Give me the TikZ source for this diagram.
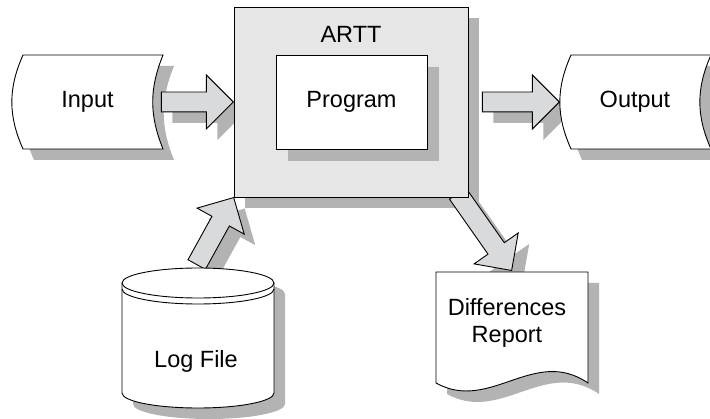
\documentclass[tikz,border=0pt]{standalone}
\usepackage{fontspec}
\setmainfont{Liberation Sans}
\usetikzlibrary{calc,shapes.arrows}

\definecolor{boxgray}{HTML}{E6E6E6}
\definecolor{shadegray}{HTML}{B3B3B3}
\definecolor{arrowgray}{HTML}{D9DADC}

\tikzset{
  every node/.style={font=\fontsize{23.5}{27}\selectfont},
  outline/.style={draw=black,line width=0.9pt,fill=white},
  shadowfill/.style={fill=shadegray,draw=none},
  bigbox/.style={rectangle,minimum width=234pt,minimum height=190pt,inner sep=0pt},
  smallbox/.style={rectangle,minimum width=151pt,minimum height=94pt,inner sep=0pt},
  fatarrow/.style={single arrow,single arrow head extend=17pt,single arrow tip angle=90,
    inner xsep=0pt,inner ysep=9.5pt,anchor=tip,line width=0.9pt}
}

% outlines of the drawn shapes
\newcommand{\inputpath}{(23,363) -- (163,363) to[bend right=22] (163,269) -- (23,269) to[bend left=24] (23,363) -- cycle}
\newcommand{\outputpath}{(571,363) -- (711,363) to[bend right=24] (711,269) -- (571,269) to[bend left=24] (571,363) -- cycle}
\newcommand{\drumpath}{(122,135) -- (122,25) arc[start angle=180,end angle=360,x radius=76,y radius=15] -- (274,135) arc[start angle=0,end angle=180,x radius=76,y radius=15] -- cycle}
\newcommand{\docpath}{(436,146) -- (588,146) -- (588,35) .. controls (534,72) and (490,5) .. (436,35) -- cycle}

% block arrow from #1 to #2, with its shadow
\newcommand{\fatlink}[2]{%
  \path let \p1=($(#2)-(#1)$), \n1={veclen(\x1,\y1)}, \n2={atan2(\y1,\x1)} in
    node[fatarrow,shadowfill,minimum height=\n1,rotate=\n2] at ($(#2)+(11,-11)$) {}
    node[fatarrow,draw=black,fill=arrowgray,minimum height=\n1,rotate=\n2] at (#2) {};}

\begin{document}
\begin{tikzpicture}[x=1pt,y=1pt]
\useasboundingbox (0,0) rectangle (710,418);

\begin{scope}[shift={(11,-11)}]
\fill[shadegray] \inputpath;
\fill[shadegray] \outputpath;
\node[bigbox,shadowfill] at (351,316) {};
\fill[shadegray] \drumpath;
\fill[shadegray] \docpath;
\end{scope}

\coordinate (intail) at (162,316);
\coordinate (arttin) at (234,316);
\coordinate (outtail) at (483,316);
\coordinate (outtip) at (560,316);
\coordinate (logtail) at (197,154);
\coordinate (arttcorner) at (234,221);
\coordinate (difftail) at (458,224);
\coordinate (difftip) at (512,147);

\fatlink{intail}{arttin}
\fatlink{outtail}{outtip}
\fatlink{logtail}{arttcorner}
\fatlink{difftail}{difftip}

\filldraw[outline] \inputpath;
\node (input) at (87.5,316) {Input};
\filldraw[outline] \outputpath;
\node (output) at (635,316) {Output};

\node[bigbox,draw=black,line width=0.9pt,fill=boxgray] (artt) at (351,316) {};
\node (arttname) at (351,383.5) {ARTT};
\node[smallbox,shadowfill] at (363.5,304) {};
\node[smallbox,outline] (program) at (351.5,316) {Program};

\filldraw[outline] \drumpath;
\draw[line width=0.9pt] (122,135) arc[start angle=180,end angle=360,x radius=76,y radius=15];
\draw[line width=0.9pt] (122,129) arc[start angle=180,end angle=360,x radius=76,y radius=15];
\node (logfile) at (196,57) {Log File};

\filldraw[outline] \docpath;
\node[align=center] (report) at (507,95.5) {Differences\\Report};
\end{tikzpicture}
\end{document}
